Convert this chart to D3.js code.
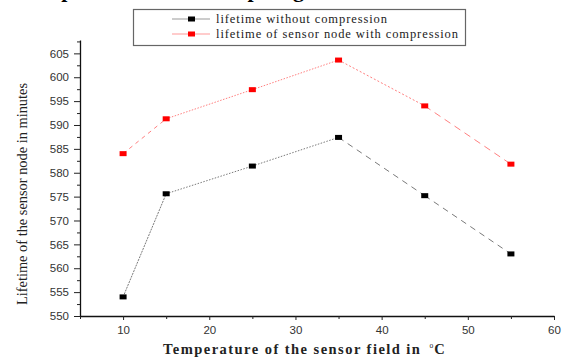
<!DOCTYPE html>
<html>
<head>
<meta charset="utf-8">
<script src="https://cdn.jsdelivr.net/npm/d3@7"></script>
<style>
  html, body { margin: 0; padding: 0; background: #fff; }
  svg { display: block; }
</style>
</head>
<body>
<svg id="chart" width="573" height="361"></svg>
<script>
// Sensor node lifetime (minutes) against field temperature (°C)
const temperatures = [10, 15, 25, 35, 45, 55];
const lifetimeWithout = [554.0, 575.6, 581.4, 587.4, 575.2, 563.0];
const lifetimeWith = [584.0, 591.3, 597.4, 603.6, 594.0, 581.8];
const seriesNames = ["lifetime without compression", "lifetime of sensor node with compression"];
const xTicks = [10, 20, 30, 40, 50, 60];
const yTicks = [550, 555, 560, 565, 570, 575, 580, 585, 590, 595, 600, 605];

const svg = d3.select("#chart");
const margin = { left: 80, right: 19, top: 40, bottom: 45 };
const W = 573, H = 361;

const x = d3.scaleLinear().domain([5, 60]).range([margin.left, W - margin.right]);
const y = d3.scaleLinear().domain([550, 607.8]).range([H - margin.bottom, margin.top]);

// heading text running off the top edge
svg.append("text")
  .attr("x", 14).attr("y", -3)
  .attr("font-family", "Liberation Serif, serif")
  .attr("font-weight", "bold")
  .attr("font-size", 22)
  .attr("textLength", 290)
  .attr("fill", "#000")
  .text("Temperature vs Sampling");

// axes
const tickFont = "Liberation Sans, Arial, sans-serif";
const xAxis = d3.axisBottom(x).tickValues(xTicks).tickSize(4).tickSizeOuter(0).tickPadding(6);
const gx = svg.append("g").attr("transform", `translate(0,${y(550)})`).call(xAxis);
const xMinor = d3.axisBottom(x).tickValues([5, 15, 25, 35, 45, 55]).tickSize(3).tickSizeOuter(0).tickFormat("");
const gxm = svg.append("g").attr("transform", `translate(0,${y(550)})`).call(xMinor);
gxm.select(".domain").remove();

const yAxis = d3.axisLeft(y).tickValues(yTicks).tickSize(6).tickSizeOuter(0).tickPadding(5);
const gy = svg.append("g").attr("transform", `translate(${x(5)},0)`).call(yAxis);
const yMinor = d3.axisLeft(y).tickValues(d3.range(552.5, 608, 5)).tickSize(3).tickSizeOuter(0).tickFormat("");
const gym = svg.append("g").attr("transform", `translate(${x(5)},0)`).call(yMinor);
gym.select(".domain").remove();

[gx, gy].forEach(g => {
  g.selectAll("text").attr("font-family", tickFont).attr("font-size", 11.5).attr("fill", "#333");
  g.select(".domain").attr("stroke", "#111").attr("stroke-width", 1.3);
});
[gx, gxm, gy, gym].forEach(g => g.selectAll(".tick line").attr("stroke", "#222").attr("stroke-width", 1));

// axis titles
svg.append("text")
  .attr("transform", `translate(27,${(y(550) + 72) / 2}) rotate(-90)`)
  .attr("text-anchor", "middle")
  .attr("font-family", "Liberation Serif, serif")
  .attr("font-size", 15)
  .attr("textLength", 222).attr("lengthAdjust", "spacingAndGlyphs")
  .attr("fill", "#222")
  .text("Lifetime of the sensor node in minutes");

const xt = svg.append("text")
  .attr("x", 163).attr("y", 354)
  .attr("font-family", "Liberation Serif, serif")
  .attr("font-size", 14.5)
  .attr("font-weight", "bold")
  .attr("fill", "#222");
xt.append("tspan").attr("textLength", 262).attr("lengthAdjust", "spacing").text("Temperature of the sensor field in ");
xt.append("tspan").attr("dx", 3).attr("dy", -6).attr("font-size", 7.5).attr("font-weight", "normal").text("o");
xt.append("tspan").attr("dx", 1).attr("dy", 6).text("C");

// per-segment dash patterns
const blackDash = ["2,1", "1.5,1.5", "1.5,1.5", "6,5", "6,5"];
const redDash = ["4,4", "1.5,1.5", "1.5,1.5", "2,2", "7,5"];

function drawSeries(values, lineColor, markColor, dashes) {
  const pts = temperatures.map((t, i) => [x(t), y(values[i])]);
  const segs = d3.pairs(pts);
  svg.append("g").selectAll("line").data(segs).join("line")
    .attr("x1", d => d[0][0]).attr("y1", d => d[0][1])
    .attr("x2", d => d[1][0]).attr("y2", d => d[1][1])
    .attr("stroke", lineColor).attr("stroke-width", 1)
    .attr("stroke-dasharray", (d, i) => dashes[i]);
  svg.append("g").selectAll("rect").data(pts).join("rect")
    .attr("x", d => d[0] - 3.5).attr("y", d => d[1] - 2.5)
    .attr("width", 7).attr("height", 5)
    .attr("fill", markColor);
}
drawSeries(lifetimeWithout, "#7a7a7a", "#000", blackDash);
drawSeries(lifetimeWith, "#ff8080", "#ff0000", redDash);

// legend
const lg = svg.append("g");
lg.append("rect").attr("x", 133.5).attr("y", 9.5).attr("width", 332).attr("height", 36)
  .attr("fill", "#fff").attr("stroke", "#666").attr("stroke-width", 1.2);
const legendRows = [
  { name: seriesNames[0], line: "#999", mark: "#000", ty: 23, tl: 171 },
  { name: seriesNames[1], line: "#ff9999", mark: "#ff0000", ty: 38, tl: 242 }
];
legendRows.forEach(r => {
  lg.append("line").attr("x1", 172).attr("x2", 210).attr("y1", r.ty - 4).attr("y2", r.ty - 4)
    .attr("stroke", r.line).attr("stroke-width", 1.2);
  lg.append("rect").attr("x", 188).attr("y", r.ty - 6.5).attr("width", 7).attr("height", 5).attr("fill", r.mark);
  lg.append("text").attr("x", 216).attr("y", r.ty)
    .attr("font-family", "Liberation Serif, serif").attr("font-size", 12.5)
    .attr("textLength", r.tl).attr("lengthAdjust", "spacing")
    .attr("fill", "#222").text(r.name);
});
</script>
</body>
</html>
